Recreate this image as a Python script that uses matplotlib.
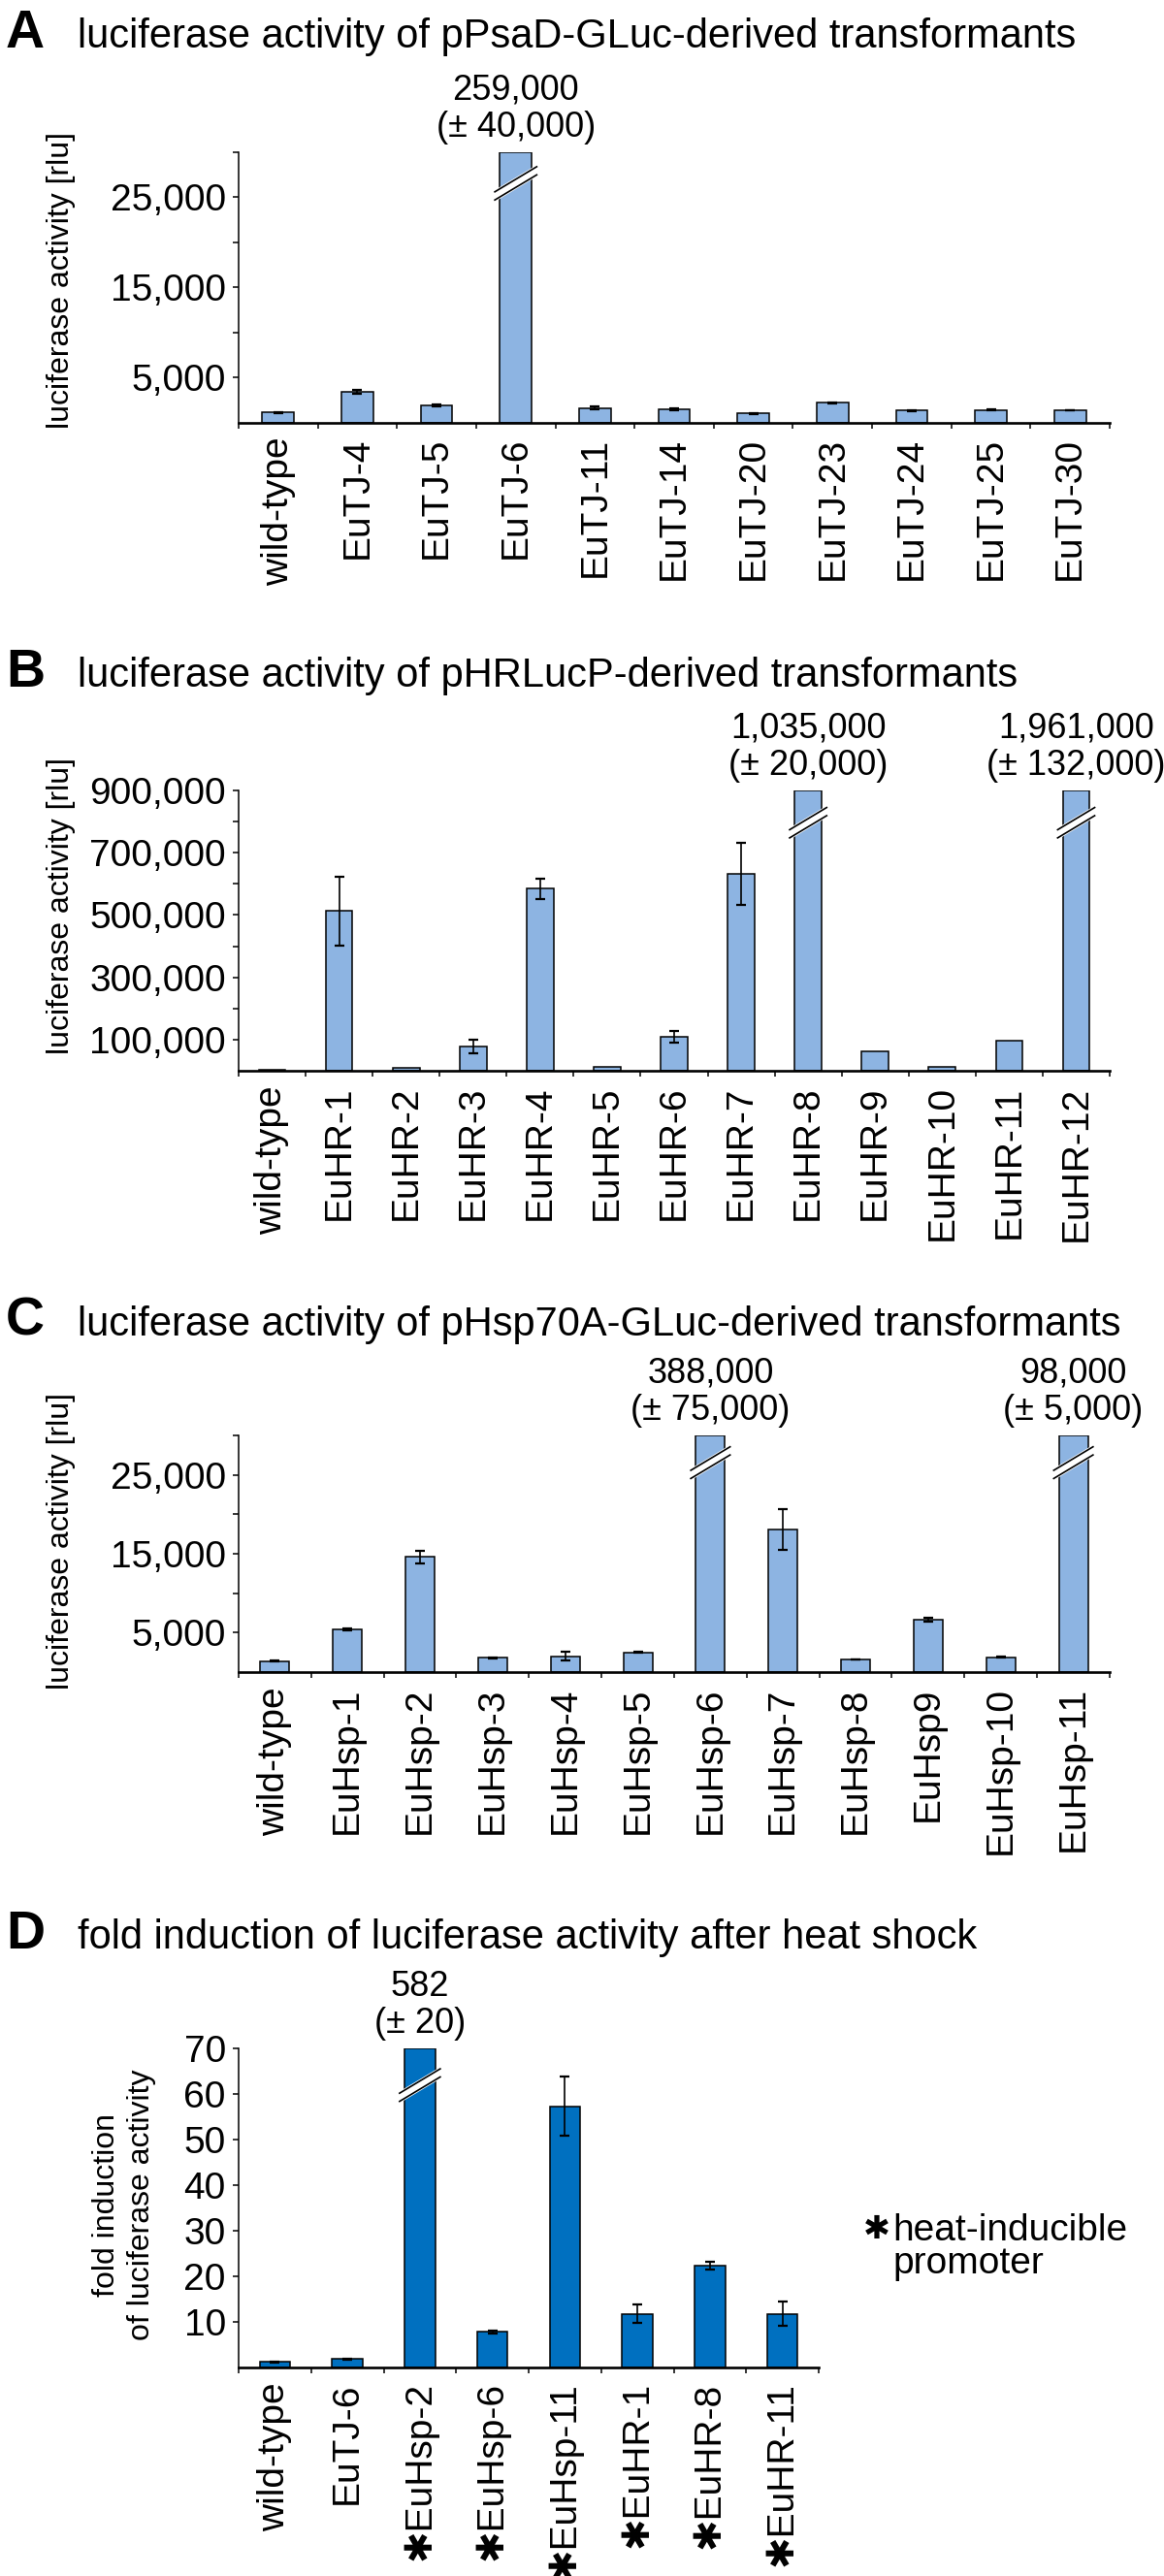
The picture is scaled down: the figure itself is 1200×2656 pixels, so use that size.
import numpy as np
import matplotlib
matplotlib.use("Agg")
import matplotlib.pyplot as plt
from matplotlib.lines import Line2D
from matplotlib.transforms import IdentityTransform
from matplotlib.ticker import FuncFormatter

plt.rcParams['font.family'] = ['Liberation Sans', 'DejaVu Sans']

# ---------------- data ----------------
a_labels = ["wild-type", "EuTJ-4", "EuTJ-5", "EuTJ-6", "EuTJ-11", "EuTJ-14",
            "EuTJ-20", "EuTJ-23", "EuTJ-24", "EuTJ-25", "EuTJ-30"]
a_values = [1100, 3400, 1900, 259000, 1600, 1500, 1000, 2200, 1300, 1400, 1350]
a_errors = [50, 250, 100, 40000, 150, 100, 50, 50, 50, 50, 50]
a_yticks = [5000, 15000, 25000]
a_yminor = [10000, 20000, 30000]
a_ymax = 30000

b_labels = ["wild-type", "EuHR-1", "EuHR-2", "EuHR-3", "EuHR-4", "EuHR-5", "EuHR-6",
            "EuHR-7", "EuHR-8", "EuHR-9", "EuHR-10", "EuHR-11", "EuHR-12"]
b_values = [4000, 513000, 8000, 78000, 585000, 14000, 109000, 632000, 1035000,
            63000, 12000, 97000, 1961000]
b_errors = [0, 110000, 0, 22000, 33000, 0, 18000, 100000, 20000, 0, 0, 0, 132000]
b_yticks = [100000, 300000, 500000, 700000, 900000]
b_yminor = [200000, 400000, 600000, 800000]
b_ymax = 900000

c_labels = ["wild-type", "EuHsp-1", "EuHsp-2", "EuHsp-3", "EuHsp-4", "EuHsp-5",
            "EuHsp-6", "EuHsp-7", "EuHsp-8", "EuHsp9", "EuHsp-10", "EuHsp-11"]
c_values = [1400, 5400, 14600, 1800, 2000, 2500, 388000, 18100, 1600, 6600, 1900, 98000]
c_errors = [80, 150, 800, 40, 550, 80, 75000, 2600, 40, 250, 40, 5000]
c_yticks = [5000, 15000, 25000]
c_yminor = [10000, 20000, 30000]
c_ymax = 30000

d_labels = ["wild-type", "EuTJ-6", "\u2731EuHsp-2", "\u2731EuHsp-6", "\u2731EuHsp-11",
            "\u2731EuHR-1", "\u2731EuHR-8", "\u2731EuHR-11"]
d_values = [1.2, 1.9, 582, 7.8, 57.3, 11.8, 22.3, 11.8]
d_errors = [0.05, 0.1, 20, 0.3, 6.5, 2.0, 0.9, 2.7]
d_yticks = [10, 20, 30, 40, 50, 60, 70]
d_ymax = 70

W, H = 1200, 2656
fig = plt.figure(figsize=(W / 100, H / 100), dpi=100)
fig.patch.set_facecolor('white')


def fx(px):
    return px / W


def fy(py):
    return 1 - py / H


LIGHT = '#8DB4E2'
DARK = '#0070C0'


def panel(rect, labels, values, errors, ymax, yticks, yminor, color, width,
          tickfmt):
    left, top, right, bottom = rect
    ax = fig.add_axes([fx(left), fy(bottom), (right - left) / W, (bottom - top) / H])
    n = len(labels)
    x = np.arange(n)
    vals = np.asarray(values, float)
    errs = np.asarray(errors, float)
    clipped = vals > ymax
    heights = np.minimum(vals, ymax)
    ax.bar(x, heights, width, color=color, edgecolor='black', linewidth=1.1, zorder=2)
    ok = (~clipped) & (errs > 0)
    ax.errorbar(x[ok], vals[ok], yerr=errs[ok], fmt='none', ecolor='black',
                elinewidth=1.2, capsize=3.5, capthick=1.6, zorder=3)
    ax.set_xlim(-0.5, n - 0.5)
    ax.set_ylim(0, ymax)
    ax.set_xticks(x)
    ax.set_xticklabels(labels, rotation=90, fontsize=28)
    ax.set_xticks(np.arange(n + 1) - 0.5, minor=True)
    ax.tick_params(axis='x', which='major', length=0, pad=11)
    ax.tick_params(axis='x', which='minor', length=4.5, width=1.1, direction='out')
    ax.set_yticks(yticks)
    if yminor:
        ax.set_yticks(yminor, minor=True)
    ax.yaxis.set_major_formatter(FuncFormatter(tickfmt))
    ax.tick_params(axis='y', which='both', length=4.5, width=1.1, direction='out',
                   pad=5, labelsize=28)
    for s in ('top', 'right'):
        ax.spines[s].set_visible(False)
    ax.spines['left'].set_linewidth(1.1)
    ax.spines['bottom'].set_linewidth(1.9)
    ax.spines['bottom'].set_zorder(4)
    # annotations and break marks for clipped bars
    for xi in x[clipped]:
        ax.annotate(f"{vals[xi]:,.0f}\n(\u00b1 {errs[xi]:,.0f})", xy=(xi, ymax),
                    xytext=(0, 6), textcoords='offset points', ha='center',
                    va='bottom', fontsize=26, linespacing=1.1,
                    annotation_clip=False)
        cx, cy = ax.transData.transform((xi, ymax * 0.885))
        x0, _ = ax.transData.transform((xi - width / 2, 0))
        hx = (cx - x0) + 6
        hy = hx * 0.6
        fig.add_artist(Line2D([cx - hx, cx + hx], [cy - hy, cy + hy],
                              transform=IdentityTransform(), color='white',
                              lw=7.5, solid_capstyle='butt', zorder=10))
        for off in (-4.2, 4.2):
            fig.add_artist(Line2D([cx - hx, cx + hx], [cy - hy + off, cy + hy + off],
                                  transform=IdentityTransform(), color='black',
                                  lw=1.2, solid_capstyle='butt', zorder=11))
    return ax


thousands = lambda v, p: f"{v:,.0f}"
plain = lambda v, p: f"{v:.0f}"

panel((246, 157, 1144, 435.5), a_labels, a_values, a_errors, a_ymax,
      a_yticks, a_yminor, LIGHT, 0.4, thousands)
panel((246, 815, 1144, 1104), b_labels, b_values, b_errors, b_ymax,
      b_yticks, b_yminor, LIGHT, 0.4, thousands)
panel((246, 1480, 1144, 1724), c_labels, c_values, c_errors, c_ymax,
      c_yticks, c_yminor, LIGHT, 0.4, thousands)
panel((246, 2112, 844, 2441), d_labels, d_values, d_errors, d_ymax,
      d_yticks, None, DARK, 0.42, plain)

# titles
titles = [("A", "luciferase activity of pPsaD-GLuc-derived transformants", 49),
          ("B", "luciferase activity of pHRLucP-derived transformants", 708),
          ("C", "luciferase activity of pHsp70A-GLuc-derived transformants", 1377),
          ("D", "fold induction of luciferase activity after heat shock", 2009)]
for letter, text, base in titles:
    fig.text(fx(6), fy(base), letter, fontsize=40, fontweight='bold',
             ha='left', va='baseline')
    fig.text(fx(80), fy(base), text, fontsize=30, ha='left', va='baseline')

# y labels
for ycen in (289, 934, 1589):
    fig.text(fx(63), fy(ycen), "luciferase activity [rlu]", fontsize=23,
             rotation=90, ha='center', va='center')
fig.text(fx(128), fy(2273), "fold induction\nof luciferase activity", fontsize=23,
         rotation=90, ha='center', va='center', multialignment='center',
         linespacing=1.25)

# legend note in D
fig.text(fx(890), fy(2300), "\u2731", fontsize=24, ha='left', va='center')
fig.text(fx(920), fy(2317), "heat-inducible\npromoter", fontsize=28, ha='left',
         va='center', linespacing=0.95)

fig.savefig("out.png", dpi=100, facecolor='white')
